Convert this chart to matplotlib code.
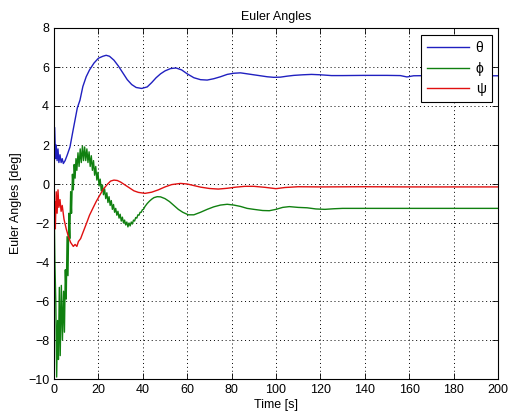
import matplotlib
matplotlib.use("Agg")
import matplotlib.pyplot as plt

plt.rcParams['font.family'] = ['Liberation Sans', 'DejaVu Sans']

title = "Euler Angles"
xlabel = "Time [s]"
ylabel = "Euler Angles [deg]"
labels = ["θ", "ϕ", "ψ"]
xticks = list(range(0, 201, 20))
yticks = list(range(-10, 9, 2))

theta_t = [0, 0.3, 0.7, 1.0, 1.4, 1.8, 2.2, 2.7, 3.2, 3.7, 4.2, 5.0, 6.0, 7.2, 8.5, 9.5,
           10.5, 11.7, 13, 14.5, 16, 18, 20, 22, 23.5, 25, 27, 29, 31, 33, 35, 37, 39.5,
           42, 44, 46, 48, 50, 52.5, 55, 57.5, 60, 63, 66, 69, 72, 75, 78, 81, 84, 87, 90,
           93, 96, 99, 102, 105, 108, 112, 116, 120, 125, 130, 140, 150, 156, 159, 162,
           170, 180, 190, 200]
theta_v = [0.9, 2.9, 1.3, 2.0, 1.2, 1.8, 1.1, 1.5, 1.1, 1.3, 1.05, 1.2, 1.5, 1.9, 2.7, 3.3,
           3.9, 4.3, 5.0, 5.5, 5.85, 6.2, 6.45, 6.55, 6.6, 6.55, 6.35, 6.05, 5.7, 5.35, 5.1,
           4.95, 4.9, 4.98, 5.2, 5.45, 5.65, 5.8, 5.92, 5.95, 5.85, 5.65, 5.45, 5.35, 5.33,
           5.4, 5.5, 5.62, 5.68, 5.7, 5.65, 5.6, 5.55, 5.5, 5.47, 5.48, 5.53, 5.57, 5.6,
           5.62, 5.6, 5.56, 5.56, 5.57, 5.57, 5.56, 5.49, 5.55, 5.56, 5.56, 5.55, 5.55]

phi_t = [0.0, 0.4, 0.8, 1.2, 1.6, 2.0, 2.4, 2.8, 3.3, 3.8, 4.3, 4.7, 5.1, 5.5, 5.9, 6.3,
         6.7, 7.1, 7.5, 7.9, 8.3, 8.7, 9.1, 9.5, 9.9, 10.3, 10.8, 11.3, 11.8, 12.3, 12.8,
         13.3, 13.8, 14.3, 14.8, 15.3, 15.8, 16.3, 16.8, 17.3, 17.8, 18.3, 18.8, 19.3,
         19.8, 20.3, 20.8, 21.3, 21.8, 22.3, 22.8, 23.3, 23.8, 24.3, 24.8, 25.3, 25.8,
         26.3, 26.8, 27.3, 27.8, 28.3, 28.8, 29.3, 29.8, 30.3, 30.8, 31.3, 31.8, 32.3,
         32.8, 33.3, 33.8, 34.3, 34.8, 35.3, 35.8, 36.3, 36.8, 37.3, 37.8, 38.3, 38.8,
         39.3, 39.8, 40.3, 41, 42, 43, 44, 45, 46.5, 48, 50, 52, 54, 56, 58, 60.5, 63, 66,
         69, 72, 75, 78, 81, 84, 87, 90, 94, 97, 100, 103, 106, 110, 114, 118, 122, 126,
         130, 140, 160, 180, 200]
phi_v = [-0.5, -4.0, -6.0, -9.9, -7.0, -9.0, -5.3, -8.8, -5.2, -8.0, -5.5, -7.6, -4.4,
         -5.9, -2.7, -4.7, -1.5, -2.8, -0.4, -1.5, 0.5, -0.3, 1.0, 0.3, 1.3, 0.7, 1.6, 0.9,
         1.8, 1.1, 1.95, 1.2, 1.9, 1.2, 1.8, 1.1, 1.65, 0.9, 1.45, 0.7, 1.2, 0.45, 0.9, 0.2,
         0.6, -0.1, 0.25, -0.35, -0.05, -0.55, -0.25, -0.75, -0.45, -0.95, -0.65, -1.1,
         -0.85, -1.3, -1.05, -1.45, -1.25, -1.6, -1.4, -1.75, -1.55, -1.9, -1.7, -2.0,
         -1.85, -2.1, -1.95, -2.2, -2.0, -2.15, -1.95, -2.05, -1.85, -1.9, -1.72, -1.75,
         -1.58, -1.6, -1.45, -1.45, -1.32, -1.3, -1.15, -1.0, -0.88, -0.78, -0.7, -0.65,
         -0.66, -0.75, -0.9, -1.1, -1.3, -1.45, -1.58, -1.58, -1.45, -1.3, -1.17, -1.08,
         -1.04, -1.08, -1.15, -1.25, -1.3, -1.36, -1.37, -1.3, -1.2, -1.16, -1.2, -1.22,
         -1.28, -1.3, -1.27, -1.25, -1.25, -1.25, -1.25, -1.25]

psi_t = [0, 0.3, 0.6, 1.0, 1.4, 1.8, 2.2, 2.7, 3.2, 3.7, 4.5, 5.5, 6.5, 7.5, 8.7, 9.5,
         10.3, 11, 12, 13, 14.7, 16, 17.7, 19, 20.5, 22.2, 24, 25.5, 27, 28.5, 30, 32, 34,
         36, 38, 41, 44, 47, 50, 53, 57, 60, 63, 66, 70, 74, 78, 82, 86, 90, 95, 100, 104,
         110, 120, 140, 160, 200]
psi_v = [-2.0, -0.9, -2.3, -0.4, -1.5, -0.3, -1.2, -0.8, -1.4, -1.1, -1.8, -2.3, -2.7,
         -3.0, -3.2, -3.1, -3.2, -2.95, -2.8, -2.5, -2.0, -1.6, -1.2, -0.9, -0.6, -0.27,
         -0.02, 0.15, 0.2, 0.18, 0.1, -0.05, -0.2, -0.35, -0.43, -0.48, -0.42, -0.3, -0.15,
         -0.03, 0.03, 0.0, -0.08, -0.16, -0.23, -0.26, -0.22, -0.16, -0.12, -0.12, -0.17,
         -0.24, -0.18, -0.14, -0.15, -0.14, -0.15, -0.15]

fig = plt.figure(figsize=(5.09, 4.19), dpi=100)
ax = fig.add_axes([54/509, 1-379/419, 444/509, 351/419])

ax.plot(theta_t, theta_v, color='#2020c0', lw=1.0, label=labels[0])
ax.plot(phi_t, phi_v, color='#108010', lw=1.0, label=labels[1])
ax.plot(psi_t, psi_v, color='#e01010', lw=1.0, label=labels[2])

ax.set_xlim(0, 200)
ax.set_ylim(-10, 8)
ax.set_xticks(xticks)
ax.set_yticks(yticks)
ax.tick_params(direction='in', top=True, right=True, labelsize=9, length=4, width=0.6)
ax.grid(True, linestyle=(0, (1, 3)), color='black', linewidth=0.7)
for s in ax.spines.values():
    s.set_linewidth(0.8)

ax.set_title(title, fontsize=9, pad=6)
ax.set_xlabel(xlabel, fontsize=9, labelpad=2)
ax.set_ylabel(ylabel, fontsize=9, labelpad=4)

leg = ax.legend(loc='upper right', bbox_to_anchor=((492-54)/444, (379-35)/351),
                borderaxespad=0, fancybox=False, framealpha=1, edgecolor='black',
                fontsize=10, handlelength=3.0, labelspacing=0.45, handletextpad=0.5,
                borderpad=0.45)
leg.get_frame().set_linewidth(0.8)

fig.savefig("out.png", dpi=100)
